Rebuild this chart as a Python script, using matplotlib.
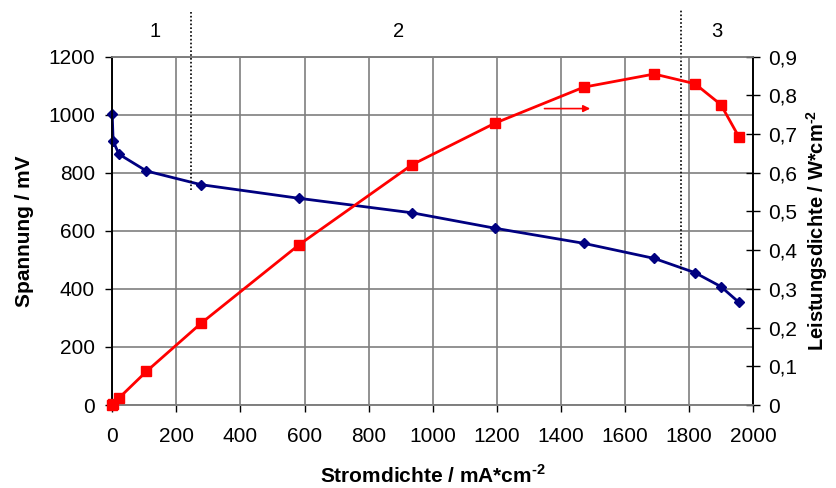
import matplotlib.pyplot as plt

plt.rcParams['font.family'] = ['Liberation Sans', 'DejaVu Sans']
plt.rcParams['mathtext.fontset'] = 'custom'
plt.rcParams['mathtext.rm'] = 'Liberation Sans:bold'
plt.rcParams['mathtext.bf'] = 'Liberation Sans:bold'

# Stromdichte mA/cm2
current = [0, 3, 21, 107, 277, 583, 936, 1194, 1471, 1691, 1818, 1899, 1955]
# Spannung mV
voltage = [1003, 909, 864, 806, 759, 712, 662, 609, 557, 505, 456, 408, 354]
# Leistungsdichte W/cm2
power = [0, 0.003, 0.018, 0.087, 0.211, 0.414, 0.621, 0.728, 0.821, 0.855, 0.830, 0.776, 0.693]

region_labels = ['1', '2', '3']
region_label_x = [134, 895, 1887]
region_bounds = [245, 1775]
region_bound_bottom = [740, 455]

x_ticks = list(range(0, 2001, 200))
y_ticks = list(range(0, 1201, 200))
y2_ticks = [i / 10 for i in range(10)]
y2_labels = ['0' if v == 0 else f'{v:.1f}'.replace('.', ',') for v in y2_ticks]

fig = plt.figure(figsize=(8.36, 4.88), dpi=100)
ax = fig.add_axes([0.1342, 0.170, 0.7668, 0.714])
ax2 = ax.twinx()

grid_col = '#7f7f7f'
ax.set_xlim(0, 2000)
ax.set_ylim(0, 1200)
ax2.set_ylim(0, 0.9)
ax.set_xticks(x_ticks)
ax.set_yticks(y_ticks)
ax2.set_yticks(y2_ticks)
ax2.set_yticklabels(y2_labels)
ax.grid(True, color=grid_col, linewidth=1.2)
ax.set_axisbelow(True)

ax.tick_params(axis='both', labelsize=15, direction='out', length=5, width=1, color='black')
ax.tick_params(axis='y', pad=7.5)
ax.tick_params(axis='x', pad=11)
ax2.tick_params(axis='y', labelsize=15, direction='inout', length=10, width=1, pad=6)

for a in (ax, ax2):
    a.spines['top'].set_color(grid_col)
    a.spines['top'].set_linewidth(1.2)
    a.spines['bottom'].set_color(grid_col)
    a.spines['bottom'].set_linewidth(1.2)
    a.spines['left'].set_linewidth(1.2)
    a.spines['right'].set_linewidth(1.2)

ax.plot(current, voltage, color='#000080', linewidth=2, marker='D', markersize=5.5,
        zorder=3, clip_on=False)
ax2.plot(current, power, color='#ff0000', linewidth=2, marker='s', markersize=7.5,
         zorder=3, clip_on=False)

# Bereichsgrenzen
for xb, yb in zip(region_bounds, region_bound_bottom):
    ax.plot([xb, xb], [yb, 1362], color='black', linestyle=(0, (1, 1.3)), linewidth=1.2,
            clip_on=False, zorder=4)
for lab, xl in zip(region_labels, region_label_x):
    ax.text(xl, 1286, lab, fontsize=14.5, ha='center', va='center')

# Pfeil zur rechten Achse
ax.annotate('', xy=(1500, 1021), xytext=(1340, 1021),
            arrowprops=dict(arrowstyle='-|>', color='#ff0000', lw=1.2, mutation_scale=10))

ax.set_xlabel('Stromdichte / mA*cm$^{\\text{-2}}$', fontsize=15, fontweight='bold', labelpad=13)
ax.set_ylabel('Spannung / mV', fontsize=15, fontweight='bold', labelpad=10)
ax2.set_ylabel('Leistungsdichte / W*cm$^{\\text{-2}}$', fontsize=14.5, fontweight='bold', labelpad=5)

fig.savefig('out.png', dpi=100)
